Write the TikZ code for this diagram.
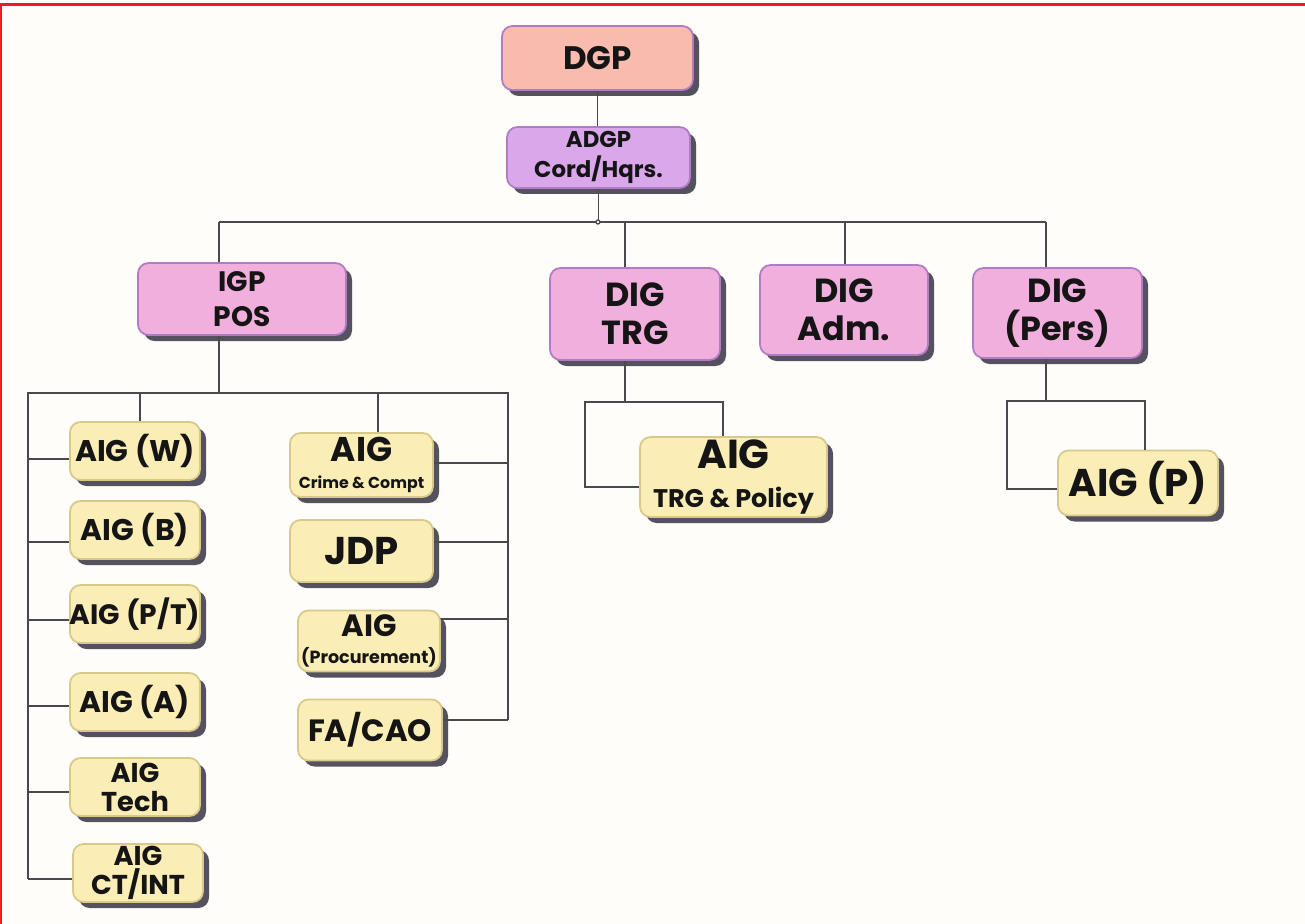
\documentclass[tikz,border=0pt]{standalone}
\usepackage{fontspec}
\setmainfont{Poppins}
\usepackage{xcolor}
\usetikzlibrary{positioning, calc, shadows}

\definecolor{bgcream}{HTML}{FEFDF9}
\definecolor{framered}{HTML}{EE1C25}
\definecolor{dgpfill}{HTML}{F8BBAE}
\definecolor{adgpfill}{HTML}{D9A7EA}
\definecolor{digfill}{HTML}{F0AFDC}
\definecolor{aigfill}{HTML}{FAEDB6}
\definecolor{purpleline}{HTML}{B07CC6}
\definecolor{aigline}{HTML}{D6C98A}
\definecolor{shadowgray}{HTML}{55515F}
\definecolor{linkgray}{HTML}{4A4A4A}
\definecolor{inkblack}{HTML}{151515}

\begin{document}
\begin{tikzpicture}[
    box/.style={draw=#1, line width=1pt, rounded corners=6pt, align=center, inner sep=0pt, text=inkblack,
        drop shadow={shadow xshift=0.12cm, shadow yshift=-0.12cm, fill=shadowgray, opacity=1}},
    chief/.style={box=purpleline, fill=#1},
    dig/.style={box=purpleline, fill=digfill, minimum width=3.38cm, minimum height=1.8cm,
        font=\bfseries\fontsize{19}{21.5}\selectfont},
    aig/.style={box=aigline, fill=aigfill, minimum width=2.6cm, minimum height=1.16cm,
        font=\bfseries\fontsize{17}{18}\selectfont},
    link/.style={draw=linkgray, line width=0.75pt}
]
% Page and frame
\useasboundingbox (0,0) rectangle (26.1,-18.48);
\fill[bgcream] (0,0) rectangle (26.1,-18.48);
\draw[framered, line width=1.3pt] (0.02,-18.48) |- (26.1,-0.09);

% Headquarters
\node[chief=dgpfill, minimum width=3.82cm, minimum height=1.28cm, font=\bfseries\fontsize{18.5}{20}\selectfont]
    (dgp) at (11.95,-1.16) {DGP};
\node[chief=adgpfill, minimum width=3.66cm, minimum height=1.22cm, font=\bfseries\fontsize{13}{17.5}\selectfont]
    (adgp) at (11.97,-3.15) {ADGP\\Cord/Hqrs.};

% Second row
\node[dig, minimum width=4.16cm, minimum height=1.44cm, font=\bfseries\fontsize{16}{19.5}\selectfont]
    (igp) at (4.84,-5.98) {IGP\\POS};
\node[dig, minimum width=3.40cm, minimum height=1.84cm] (digtrg) at (12.70,-6.28) {DIG\\TRG};
\node[dig, minimum width=3.36cm] (digadm) at (16.88,-6.20) {DIG\\Adm.};
\node[dig] (digpers) at (21.15,-6.26) {DIG\\(Pers)};

% Under IGP POS, left column
\node[aig] (aigw) at (2.70,-9.02) {AIG (W)};
\node[aig] (aigb) at (2.70,-10.60) {AIG (B)};
\node[aig, font=\bfseries\fontsize{16}{18}\selectfont] (aigpt) at (2.70,-12.28) {AIG (P/T)};
\node[aig] (aiga) at (2.70,-14.04) {AIG (A)};
\node[aig, font=\bfseries\fontsize{15.5}{16.5}\selectfont] (aigtech) at (2.70,-15.74) {AIG\\Tech};
\node[aig, font=\bfseries\fontsize{15.5}{16.5}\selectfont] (aigct) at (2.76,-17.46) {AIG\\CT/INT};

% Under IGP POS, right column
\node[aig, minimum width=2.86cm, minimum height=1.28cm] (aigcrime) at (7.23,-9.30)
    {{\fontsize{19.5}{20}\selectfont AIG}\\[-3pt]{\fontsize{9}{10}\selectfont Crime \& Compt}};
\node[aig, minimum width=2.86cm, minimum height=1.24cm, font=\bfseries\fontsize{22}{23}\selectfont]
    (jdp) at (7.23,-11.02) {JDP};
\node[aig, minimum width=2.84cm, minimum height=1.22cm] (aigproc) at (7.38,-12.82)
    {{\fontsize{17.5}{18}\selectfont AIG}\\[-3pt]{\fontsize{10}{11}\selectfont (Procurement)}};
\node[aig, minimum width=2.88cm, minimum height=1.22cm, font=\bfseries\fontsize{17.5}{18}\selectfont]
    (facao) at (7.40,-14.60) {FA/CAO};

% Under the DIGs
\node[aig, minimum width=3.74cm, minimum height=1.60cm] (aigtrg) at (14.67,-9.54)
    {{\fontsize{23}{24}\selectfont AIG}\\[4pt]{\fontsize{14.5}{15}\selectfont TRG \& Policy}};
\node[aig, minimum width=3.20cm, minimum height=1.30cm, font=\bfseries\fontsize{22}{23}\selectfont]
    (aigp) at (22.76,-9.66) {AIG (P)};

% Bus points
\coordinate (hq) at (11.96,-4.44);
\coordinate (b1) at (4.38,-4.44);
\coordinate (b2) at (12.50,-4.44);
\coordinate (b3) at (16.90,-4.44);
\coordinate (b4) at (20.92,-4.44);
\coordinate (pL) at (0.56,-7.86);
\coordinate (pR) at (10.16,-7.86);
\coordinate (pw) at (2.80,-7.86);
\coordinate (pc) at (7.56,-7.86);
\coordinate (t1) at (11.70,-8.04);
\coordinate (t2) at (14.46,-8.04);
\coordinate (q1) at (20.14,-8.02);
\coordinate (q2) at (22.90,-8.02);

% Top links
\draw[link] (dgp.south) -- (dgp.south |- adgp.north);
\draw[link] (adgp.south) -- (adgp.south |- hq);
\draw[link] (b1) -- (b4);
\foreach \b/\n in {b1/igp, b2/digtrg, b3/digadm, b4/digpers} {
    \draw[link] (\b) -- (\b |- \n.north);
}
\draw[link, fill=bgcream] (hq) circle (0.04);

% IGP POS branch
\draw[link] (b1 |- igp.south) -- (b1 |- pL);
\draw[link] ([yshift=-0.12cm]aigct.west -| pL) -- (pL) -- (pR) -- ([yshift=0.2cm]facao.east -| pR);
\draw[link] (pw) -- (pw |- aigw.north);
\draw[link] (pc) -- (pc |- aigcrime.north);
\foreach \n/\dy in {aigw/-0.16, aigb/-0.24, aigpt/-0.12, aiga/-0.08, aigtech/-0.10, aigct/-0.12} {
    \draw[link] ([yshift=\dy cm]\n.west) -- ([yshift=\dy cm]\n.west -| pL);
}
\foreach \n/\dy in {aigcrime/0.04, jdp/0.18, aigproc/0.44, facao/0.20} {
    \draw[link] ([yshift=\dy cm]\n.east) -- ([yshift=\dy cm]\n.east -| pR);
}

% DIG TRG branch
\draw[link] (b2 |- digtrg.south) -- (b2 |- t1);
\draw[link] (t2 |- aigtrg.north) -- (t2) -- (t1) -- ([yshift=-0.2cm]aigtrg.west -| t1) -- ([yshift=-0.2cm]aigtrg.west);

% DIG (Pers) branch
\draw[link] (b4 |- digpers.south) -- (b4 |- q1);
\draw[link] (q2 |- aigp.north) -- (q2) -- (q1) -- ([yshift=-0.12cm]aigp.west -| q1) -- ([yshift=-0.12cm]aigp.west);

\end{tikzpicture}
\end{document}
